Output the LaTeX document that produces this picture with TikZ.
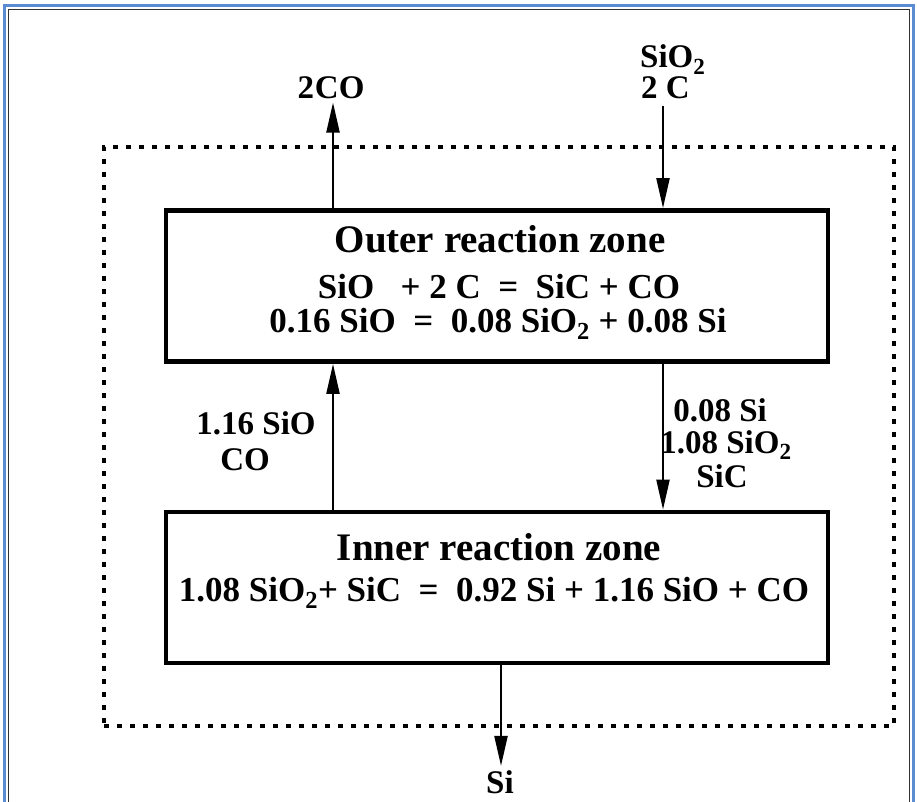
\documentclass[tikz,border=0pt]{standalone}
\usepackage{fontspec}
\setmainfont{Liberation Serif}
\usetikzlibrary{arrows.meta}
\definecolor{frameblue}{HTML}{5B8BD0}
\begin{document}
\begin{tikzpicture}[x=1pt,y=-1pt,
  txt/.style={font=\fontsize{33}{33}\selectfont\bfseries, inner sep=0pt, anchor=base},
  eqn/.style={font=\fontsize{35}{35}\selectfont\bfseries, inner sep=0pt, anchor=base},
  ttl/.style={font=\fontsize{39}{39}\selectfont\bfseries, inner sep=0pt, anchor=base},
  zone/.style={draw, line width=4.8pt, minimum width=662pt, minimum height=151pt, inner sep=0pt},
  sysbox/.style={draw, line width=3.8pt, dash pattern=on 5pt off 8pt, minimum width=790pt, minimum height=579pt, inner sep=0pt},
  flow/.style={line width=2.2pt, -{Triangle[length=30pt,width=13pt]}}
]
\useasboundingbox (0,0) rectangle (917,802);
% page frame
\draw[frameblue, line width=3pt] (4,6) rectangle (913,830);
\draw[black!80, line width=1pt] (8,10) rectangle (909,830);

% system boundary and zones
\node[sysbox] (system) at (499,436.5) {};
\node[zone] (outer) at (497,286) {};
\node[zone] (inner) at (497,587.5) {};

\coordinate (L) at (333,0);
\coordinate (R) at (663,0);
\coordinate (M) at (501,0);

% zone texts
\node[ttl] (outerT) at (500,252) {Outer reaction zone};
\node[eqn] (outerA) at (499,298) {SiO\ \ \ + 2 C \ = \ SiC + CO};
\node[eqn] (outerB) at (498,332) {0.16 SiO \ = \ 0.08 SiO\textsubscript{2} + 0.08 Si};
\node[ttl] (innerT) at (499,560) {Inner reaction zone};
\node[eqn] (innerA) at (494,601) {1.08 SiO\textsubscript{2}+ SiC \ = \ 0.92 Si + 1.16 SiO + CO};

% outside labels
\node[txt] (co) at (331,99) {2\kern1pt CO};
\node[txt, anchor=base west] (feedA) at (640,68) {SiO\textsubscript{2}};
\node[txt, anchor=base west] (feedB) at (641,99) {2 C};
\node[txt] (si) at (500,793) {Si};

% middle labels
\node[txt] (upA) at (256,434) {1.16 SiO};
\node[txt] (upB) at (245,470) {CO};
\node[txt] (dnA) at (720,421) {0.08 Si};
\node[txt] (dnB) at (726,453) {1.08 SiO\textsubscript{2}};
\node[txt] (dnC) at (722,487) {SiC};

% flows
\draw[flow, shorten >=3pt] (outer.north -| L) -- (co.south -| L);
\draw[flow, shorten <=6pt] (feedB.south -| R) -- (outer.north -| R);
\draw[flow] (inner.north -| L) -- (outer.south -| L);
\draw[flow] (outer.south -| R) -- (inner.north -| R);
\draw[flow, shorten >=4pt] (inner.south -| M) -- (si.north -| M);
\end{tikzpicture}
\end{document}
